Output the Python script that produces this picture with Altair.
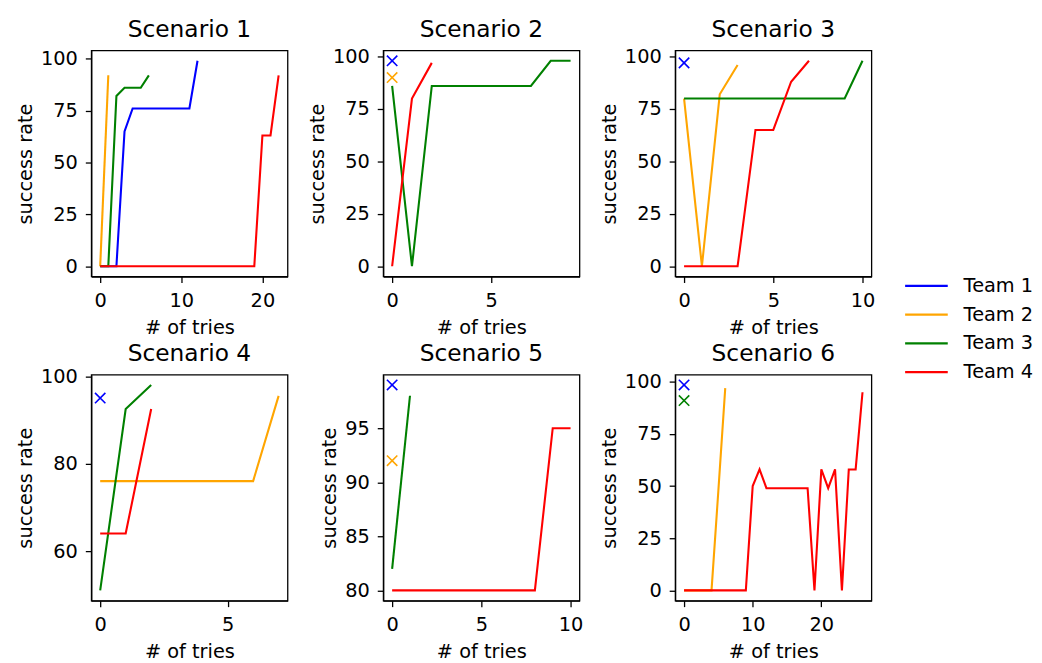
import altair as alt
import pandas as pd

teams = ["Team 1", "Team 2", "Team 3", "Team 4"]
team_colors = ["#0000ff", "#ffa500", "#008000", "#ff0000"]
scenario_names = ["Scenario 1", "Scenario 2", "Scenario 3",
                  "Scenario 4", "Scenario 5", "Scenario 6"]

# success rate per try (index = # of tries), one list per team and scenario
s1_team1 = [0, 0, 0, 65, 76, 76, 76, 76, 76, 76, 76, 76, 99]
s1_team2 = [0, 92]
s1_team3 = [0, 0, 82, 86, 86, 86, 92]
s1_team4 = [0] * 20 + [63, 63, 92]

s2_team1 = [98]
s2_team2 = [90]
s2_team3 = [86, 0, 86, 86, 86, 86, 86, 86, 98, 98]
s2_team4 = [0, 80, 97]

s3_team1 = [97]
s3_team2 = [80, 0, 82, 96]
s3_team3 = [80] * 10 + [98]
s3_team4 = [0, 0, 0, 0, 65, 65, 88, 98]

s4_team1 = [95]
s4_team2 = [76] * 7 + [95.5]
s4_team3 = [51, 92.5, 98]
s4_team4 = [64, 64, 92.5]

s5_team1 = [99]
s5_team2 = [92]
s5_team3 = [82, 98]
s5_team4 = [80] * 9 + [95, 95]

s6_team1 = [98.5]
s6_team2 = [0, 0, 0, 0, 0, 48, 97]
s6_team3 = [91]
s6_team4 = [0] * 10 + [50, 58, 49, 49, 49, 49, 49, 49, 49, 0, 58, 49, 58, 0, 58, 58, 95]

scenario_series = [
    [s1_team1, s1_team2, s1_team3, s1_team4],
    [s2_team1, s2_team2, s2_team3, s2_team4],
    [s3_team1, s3_team2, s3_team3, s3_team4],
    [s4_team1, s4_team2, s4_team3, s4_team4],
    [s5_team1, s5_team2, s5_team3, s5_team4],
    [s6_team1, s6_team2, s6_team3, s6_team4],
]

x_tick_values = [[0, 10, 20], [0, 5], [0, 5, 10], [0, 5], [0, 5, 10], [0, 10, 20]]
y_tick_values = [[0, 25, 50, 75, 100], [0, 25, 50, 75, 100], [0, 25, 50, 75, 100],
                 [60, 80, 100], [80, 85, 90, 95], [0, 25, 50, 75, 100]]

rows = []
for name, series in zip(scenario_names, scenario_series):
    for team, vals in zip(teams, series):
        for i, v in enumerate(vals):
            rows.append({"scenario": name, "team": team, "x": i, "y": v, "n": len(vals)})
df = pd.DataFrame(rows)

FONT = "DejaVu Sans"
X_SHAPE = "M-1,-1L1,1M-1,1L1,-1"
LINE_SHAPE = "M-1.5,0L1.5,0"
W, H = 198, 228


def panel(k):
    name = scenario_names[k]
    sub = df[df["scenario"] == name]
    x0, x1 = float(sub["x"].min()), float(sub["x"].max())
    y0, y1 = float(sub["y"].min()), float(sub["y"].max())
    xd = [x0 - 0.05 * (x1 - x0), x1 + 0.05 * (x1 - x0)]
    yd = [y0 - 0.05 * (y1 - y0), y1 + 0.05 * (y1 - y0)]
    xenc = alt.X("x:Q", scale=alt.Scale(domain=xd, nice=False, zero=False),
                 axis=alt.Axis(values=x_tick_values[k], title="# of tries", format="d"))
    yenc = alt.Y("y:Q", scale=alt.Scale(domain=yd, nice=False, zero=False),
                 axis=alt.Axis(values=y_tick_values[k], title="success rate", format="d"))
    cscale = alt.Scale(domain=teams, range=team_colors)
    base = alt.Chart(df).transform_filter(alt.datum.scenario == name)
    lines = base.transform_filter(alt.datum.n > 1).mark_line(strokeWidth=2.1).encode(
        x=xenc, y=yenc,
        color=alt.Color("team:N", scale=cscale,
                        legend=alt.Legend(title=None, orient="none", legendX=827, legendY=222,
                                          symbolType=LINE_SHAPE, symbolSize=822,
                                          symbolStrokeWidth=2.2, labelFontSize=19.5,
                                          labelFont=FONT, labelColor="black",
                                          labelOffset=22, rowPadding=4)),
        order="x:Q",
    )
    pts = base.transform_filter(alt.datum.n == 1).mark_point(
        shape=X_SHAPE, size=110, strokeWidth=1.6, filled=False, opacity=1
    ).encode(x=xenc, y=yenc, color=alt.Color("team:N", scale=cscale, legend=None))
    title = alt.Chart(pd.DataFrame({"title": [name]})).mark_text(
        fontSize=23.5, font=FONT, color="black", align="center", baseline="alphabetic"
    ).encode(text="title:N", x=alt.value(W / 2), y=alt.value(-14))
    return alt.layer(lines, pts, title).properties(width=W, height=H)


chart = alt.concat(*[panel(k) for k in range(6)], columns=3, bounds="flush",
                   spacing={"row": 99, "column": 96.5}).configure(
    font=FONT, padding={"left": 7, "top": 6, "right": 0, "bottom": 0}
).configure_view(
    stroke="black", strokeWidth=1.3
).configure_axis(
    grid=False, labelFontSize=19.5, titleFontSize=19.5, labelFont=FONT, titleFont=FONT,
    labelColor="black", titleColor="black", titleFontWeight="normal",
    tickColor="black", domainColor="black", tickSize=6, tickWidth=1.3, domainWidth=1.3,
).configure_axisX(
    labelPadding=9, titlePadding=9
).configure_axisY(
    labelPadding=8, titlePadding=5
)

chart.save("out.html", embed_options={"renderer": "svg", "actions": False})
